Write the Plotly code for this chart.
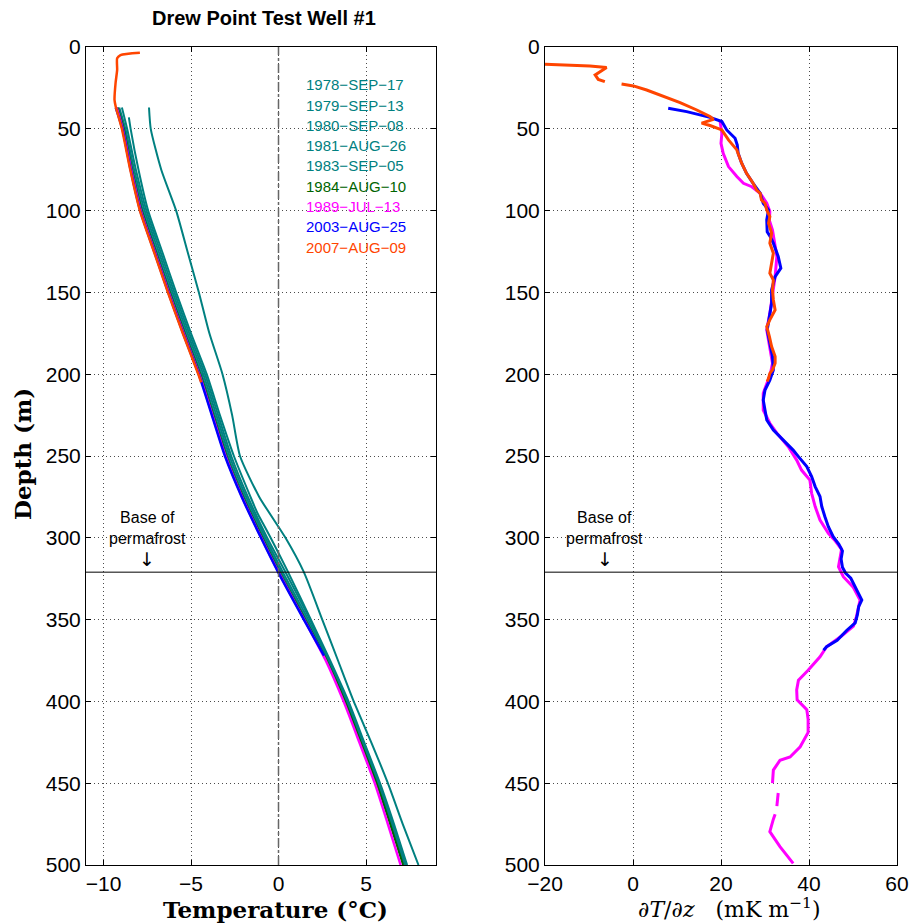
import plotly.graph_objects as go

# ---------------- Data: temperature profiles (left panel) ----------------
T_DEPTH = [37, 50, 75, 100, 125, 150, 175, 200, 225, 250, 275, 300, 321, 350, 375, 400, 425, 450, 475, 500]

T_1978 = [-7.4, -7.3, -6.7, -5.85, -5.2, -4.55, -3.95, -3.2, -2.65, -2.2, -1.1, 0.4, 1.45, 2.5, 3.4, 4.3, 5.3, 6.25, 7.1, 8.0]
T_1979 = [-9.1, -8.75, -8.25, -7.65, -6.85, -6.05, -5.2, -4.3, -3.55, -2.8, -1.85, -0.75, 0.25, 1.7, 2.85, 3.9, 4.8, 5.7, 6.5, 7.25]
T_1980_DEPTH = [43, 50, 75, 100, 125, 150, 175, 200, 225, 250, 275, 285, 291, 300, 321, 350, 375, 400, 425, 450, 475, 500]
T_1980 = [-8.55, -8.45, -8.0, -7.45, -6.65, -5.85, -5.0, -4.1, -3.35, -2.55, -1.6, -1.2, -0.9, -0.45, 0.55, 1.85, 2.95, 4.0, 4.9, 5.8, 6.6, 7.35]
T_1981 = [-8.95, -8.65, -8.15, -7.55, -6.75, -5.95, -5.1, -4.2, -3.45, -2.7, -1.75, -0.65, 0.4, 1.8, 2.9, 3.95, 4.85, 5.75, 6.55, 7.3]
T_1983 = [-9.2, -8.82, -8.33, -7.75, -6.95, -6.15, -5.3, -4.4, -3.65, -2.9, -1.95, -0.85, 0.15, 1.6, 2.8, 3.85, 4.75, 5.65, 6.45, 7.2]
T_1984 = [-9.2, -8.85, -8.38, -7.82, -7.02, -6.22, -5.37, -4.48, -3.73, -2.98, -2.03, -0.93, 0.05, 1.52, 2.75, 3.8, 4.7, 5.6, 6.38, 7.12]
T_1989 = [-9.25, -8.9, -8.42, -7.87, -7.07, -6.27, -5.42, -4.53, -3.78, -3.03, -2.08, -0.98, 0.0, 1.47, 2.7, 3.72, 4.62, 5.5, 6.25, 6.98]
T_2003_DEPTH = [37, 50, 75, 100, 125, 150, 175, 200, 225, 250, 275, 300, 321, 350, 372]
T_2003 = [-9.3, -8.92, -8.45, -7.9, -7.1, -6.3, -5.45, -4.56, -3.81, -3.06, -2.1, -1.0, -0.02, 1.45, 2.6]
T_2007_DEPTH = [3.5, 4.9, 6.9, 14, 22, 32.4, 36.5, 50, 75, 100, 125, 150, 175, 200, 205]
T_2007 = [-7.92, -9.03, -9.22, -9.22, -9.31, -9.37, -9.3, -8.95, -8.47, -7.92, -7.12, -6.32, -5.47, -4.58, -4.42]

# ---------------- Data: temperature gradient (right panel, mK/m) ----------------
G_2007_DEPTH = [10.5, 11.6, 12.6, 17.1, 19.8, 21.2, 21.9, 22.6, 23.8, 26.3, 30.3, 34, 38.5, 42.5, 44.2, 46.5, 48,
                50.7, 56.8, 62.9, 71, 77.2, 83.3, 87.4, 89.4, 93.5, 95.5, 99.6, 103.7, 107.7, 113.8, 119.9, 126,
                132.2, 138.3, 142.4, 148.5, 154.6, 160.7, 166.8, 170.9, 177, 183.1, 189.2, 193.3, 197.4, 199.5,
                202.5, 204.5]
G_2007 = [-20, -9.8, -6.0, -8.6, -7.9, -6.4, None, -2.6, 0.1, 3.1, 6.9, 10.7, 14.5, 17.5, 18.3, 15.6, 17.5,
          20.2, 21.7, 23.6, 24.7, 25.8, 27.3, 28.1, 28.9, 29.2, 30.0, 30.4, 31.1, 30.8, 31.5, 31.1, 31.9,
          31.5, 31.1, 31.9, 31.7, 31.9, 32.3, 31.1, 30.4, 31.0, 31.5, 32.3, 32.3, 31.7, 31.1,
          30.8, 30.5]

G_2003_DEPTH = [37.5, 39.5, 43, 45.6, 50.7, 55.8, 60, 65, 71, 77.2, 83.3, 89.4, 95.5, 99.6, 105.7, 112.9, 116,
                119.9, 128, 135.2, 140.3, 148.5, 156.7, 164.8, 173, 181.1, 189.2, 197.4, 203.6, 209.7, 215.8,
                221.9, 228, 234.1, 240.3, 246.4, 250.4, 256.5, 262.6, 268.7, 274.8, 280.9, 287, 293.2, 299.3,
                304, 308, 313, 318, 321.5, 324.7, 330, 335, 338, 342, 347, 352, 356.5, 362.6, 366.6, 368.7]
G_2003 = [8.0, 12.2, 17.5, 20.2, 21.3, 23.2, 23.7, 23.9, 24.7, 25.8, 27.3, 28.9, 29.6, 30.8, 30.4, 30.5, 31.2,
          31.9, 33.0, 33.6, 32.3, 31.5, 31.5, 31.0, 30.5, 31.1, 31.7, 31.9, 31.1, 30.0, 29.6,
          30.0, 30.4, 31.9, 34.2, 36.4, 37.6, 39.5, 40.6, 41.4, 42.5, 42.9, 43.6, 44.4, 45.5,
          46.8, 47.6, 47.3, 47.6, 48.3, 49.5, 50.5, 51.3, 52.0, 51.3, 51.0, 50.5, 48.6, 46.4, 44.0, 43.3]

G_1989_DEPTH = [45.6, 52.8, 58.9, 65, 73.1, 79.2, 83.3, 85.4, 89.4, 95.5, 100.6, 106, 111.9, 120, 128, 140.3,
                148.5, 155, 162.8, 173, 183.1, 193.3, 200, 205, 211.7, 221.9, 230, 236, 244.3, 252.5, 258.6,
                264.7, 272.8, 280.9, 289.1, 297.2, 302, 307, 312, 317.7, 323.8, 330, 338, 348, 354, 360, 366.6,
                372.7, 381, 387, 393, 399, 405, 411, 419, 427.7, 434, 436, 442, 450, 453, 456, 460, 464, 467,
                469, 472, 479.6, 488.8, 499]
G_1989 = [19.8, 20.2, 20.0, 20.5, 21.7, 23.6, 25.1, 27.0, 28.9, 30.4, 31.1, 31.0, 31.7, 32.2, 32.7, 32.3,
          31.9, 31.6, 31.1, 30.4, 31.1, 31.7, 31.2, 30.5, 29.6, 29.6, 31.1, 32.7, 35.3, 37.2, 38.3,
          40.2, 40.6, 41.4, 42.5, 44.4, 46.0, 47.4, 47.0, 46.7, 47.8, 50.0, 51.6, 50.8, 50.1, 47.4, 44.0,
          42.5, 39.8, 37.6, 37.2, 37.3, 39.5, 39.8, 39.8, 38.0, 35.7, 33.4, 31.9, 31.7, None, 33.0, 32.8, 32.7, None,
          32.3, 31.9, 31.1, 33.4, 36.4]

LEGEND_LABELS = ["1978−SEP−17", "1979−SEP−13", "1980−SEP−08", "1981−AUG−26", "1983−SEP−05",
                 "1984−AUG−10", "1989−JUL−13", "2003−AUG−25", "2007−AUG−09"]
PERMAFROST_BASE = 321

TEAL = "#008080"
GREEN = "#006400"
MAGENTA = "#FF00FF"
BLUE = "#0000FF"
ORANGE = "#FF4500"
LEGEND_COLORS = [TEAL, TEAL, TEAL, TEAL, TEAL, GREEN, MAGENTA, BLUE, ORANGE]

fig = go.Figure()

left_series = [
    (T_1978, T_DEPTH, TEAL, 2),
    (T_1979, T_DEPTH, TEAL, 2),
    (T_1980, T_1980_DEPTH, TEAL, 2),
    (T_1981, T_DEPTH, TEAL, 2),
    (T_1983, T_DEPTH, TEAL, 2),
    (T_1984, T_DEPTH, GREEN, 2),
    (T_1989, T_DEPTH, MAGENTA, 2.5),
    (T_2003, T_2003_DEPTH, BLUE, 2.5),
    (T_2007, T_2007_DEPTH, ORANGE, 2.5),
]
for xs, ys, c, w in left_series:
    fig.add_trace(go.Scatter(x=xs, y=ys, mode="lines", line=dict(color=c, width=w, shape="spline", smoothing=0.6),
                             xaxis="x", yaxis="y", showlegend=False, hoverinfo="skip"))

right_series = [
    (G_1989, G_1989_DEPTH, MAGENTA),
    (G_2003, G_2003_DEPTH, BLUE),
    (G_2007, G_2007_DEPTH, ORANGE),
]
for xs, ys, c in right_series:
    fig.add_trace(go.Scatter(x=xs, y=ys, mode="lines", line=dict(color=c, width=3),
                             connectgaps=False, xaxis="x2", yaxis="y2", showlegend=False, hoverinfo="skip"))

W, H = 912, 924
ydom = [1 - 865 / H, 1 - 47 / H]
axis_common = dict(
    ticks="inside", ticklen=5, tickcolor="black", tickwidth=1,
    showline=True, linecolor="black", linewidth=1, mirror="ticks",
    showgrid=True, gridcolor="rgba(0,0,0,0.7)", gridwidth=1, griddash="1px,3px",
    zeroline=False, automargin=False,
    tickfont=dict(family="Liberation Sans, Arial", size=21, color="black"),
)
fig.update_layout(
    width=W, height=H, margin=dict(l=0, r=0, t=0, b=0, autoexpand=False),
    paper_bgcolor="white", plot_bgcolor="white",
    xaxis=dict(domain=[86 / W, 436 / W], range=[-11, 9], tickvals=[-10, -5, 0, 5], anchor="y", **axis_common),
    yaxis=dict(domain=ydom, range=[500, 0], tickvals=list(range(0, 501, 50)), anchor="x", **axis_common),
    xaxis2=dict(domain=[545 / W, 897 / W], range=[-20, 60], tickvals=[-20, 0, 20, 40, 60], anchor="y2", **axis_common),
    yaxis2=dict(domain=ydom, range=[500, 0], tickvals=list(range(0, 501, 50)), anchor="x2", **axis_common),
    showlegend=False,
)

# reference lines
fig.add_shape(type="line", xref="x", yref="y domain", x0=0, x1=0, y0=0, y1=1,
              line=dict(color="#666666", width=1.5, dash="dashdot"))
for xr, yr in (("x domain", "y"), ("x2 domain", "y2")):
    fig.add_shape(type="line", xref=xr, yref=yr, x0=0, x1=1, y0=PERMAFROST_BASE, y1=PERMAFROST_BASE,
                  line=dict(color="black", width=1))

# base of permafrost labels
for xr, yr, xv in (("x", "y", -7.5), ("x2", "y2", -6.4)):
    fig.add_annotation(x=xv, y=294, xref=xr, yref=yr, text="Base of<br>permafrost", showarrow=False,
                       xanchor="center", yanchor="middle",
                       font=dict(family="Liberation Sans, Arial", size=16, color="black"), align="center")
    fig.add_annotation(x=xv, y=313, xref=xr, yref=yr, text="↓", showarrow=False,
                       xanchor="center", yanchor="middle",
                       font=dict(family="DejaVu Sans", size=19, color="black"))

# legend as coloured text
for i, (lab, col) in enumerate(zip(LEGEND_LABELS, LEGEND_COLORS)):
    fig.add_annotation(x=304 / W, y=1 - (85 + i * 20.25) / H, xref="paper", yref="paper", text=lab,
                       showarrow=False, xanchor="left", yanchor="middle",
                       font=dict(family="Liberation Sans, Arial", size=15, color=col))

# titles
fig.add_annotation(x=264 / W, y=1 - 18 / H, xref="paper", yref="paper", text="<b>Drew Point Test Well #1</b>",
                   showarrow=False, xanchor="center", yanchor="middle",
                   font=dict(family="Liberation Sans, Arial", size=20, color="black"))
fig.add_annotation(x=275 / W, y=1 - 909 / H, xref="paper", yref="paper", text="<b>Temperature (°C)</b>",
                   showarrow=False, xanchor="center", yanchor="middle",
                   font=dict(family="DejaVu Serif", size=23, color="black"))
fig.add_annotation(x=22 / W, y=1 - 454 / H, xref="paper", yref="paper", text="<b>Depth (m)</b>", textangle=-90,
                   showarrow=False, xanchor="center", yanchor="middle",
                   font=dict(family="DejaVu Serif", size=23, color="black"))
fig.add_annotation(x=729 / W, y=1 - 908 / H, xref="paper", yref="paper",
                   text="∂<i>T</i>/∂<i>z</i>\u00a0\u00a0\u00a0(mK\u00a0m<sup>−1</sup>)",
                   showarrow=False, xanchor="center", yanchor="middle",
                   font=dict(family="DejaVu Serif", size=22, color="black"))

fig.write_html("out.html", config={"displayModeBar": False},
               post_script="document.body.style.margin='0';document.body.style.overflow='hidden';")
